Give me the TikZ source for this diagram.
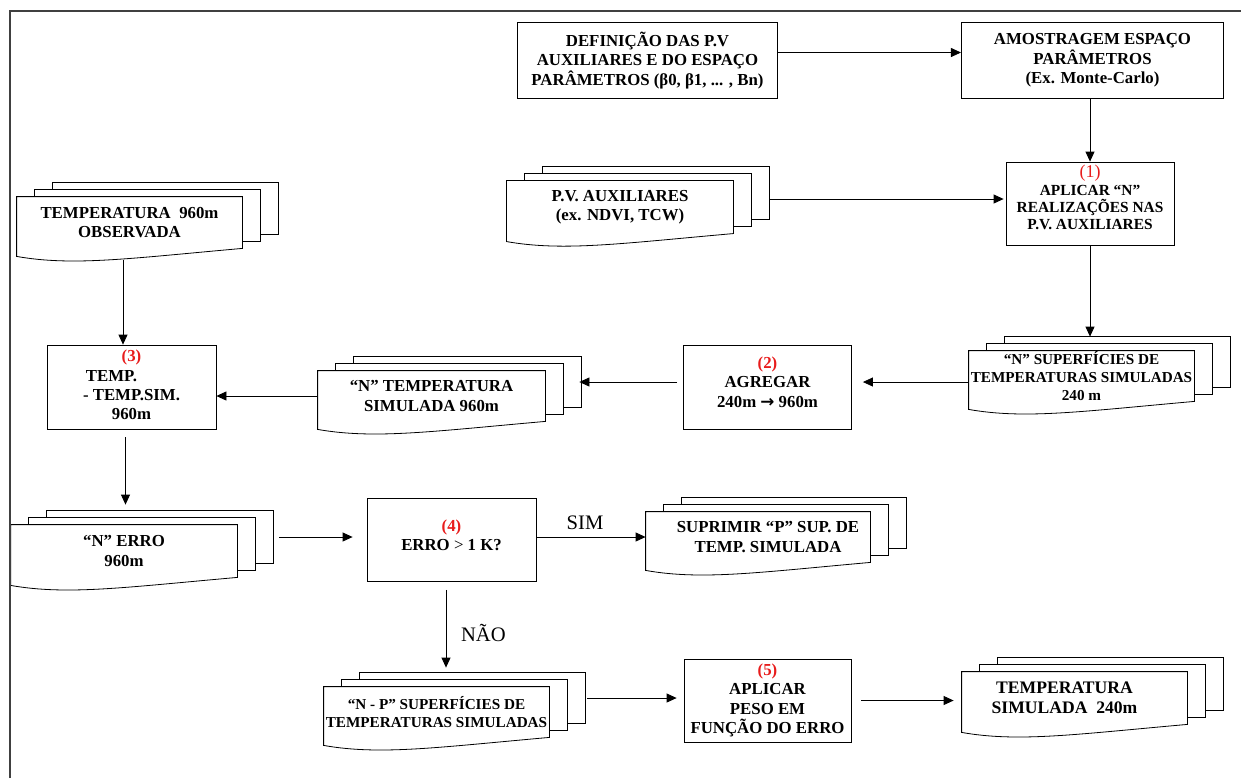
\documentclass[tikz,border=0pt]{standalone}
\usepackage{fontspec}
\setmainfont{Liberation Serif}
\newfontfamily\arrowfont{DejaVu Sans}
\usetikzlibrary{calc,arrows.meta}
\definecolor{numred}{RGB}{232,28,28}
\pgfdeclarelayer{bg}
\pgfsetlayers{bg,main}
\tikzset{
  procbox/.style={draw, align=center, inner sep=0pt, font=\bfseries\fontsize{8.4}{9.7}\selectfont},
  doctext/.style={align=center, inner sep=0pt, font=\bfseries\fontsize{8.4}{9.7}\selectfont},
  answer/.style={font=\fontsize{10.3}{12}\selectfont},
}
\newcommand{\stepnum}[1]{{\color{numred}#1}}
\newcommand{\lift}[1]{\rule[-#1]{0pt}{0pt}}
% stack of three pages behind a document node
\newcommand{\docstack}[1]{%
  \begin{pgfonlayer}{bg}
    \foreach \k in {2,1}{
      \draw[fill=white] ($(#1.north west)+(18*\k,-7*\k)$) rectangle ($(#1.south east)+(18*\k,-7*\k)$);
    }
    \draw[fill=white] (#1.north west) -- (#1.north east) -- (#1.south east)
      .. controls ($(#1.south east)!.5!(#1.south west)+(0,10)$) and ($(#1.south west)!.25!(#1.south east)+(0,18)$) .. ($(#1.south west)+(0,8)$) -- cycle;
  \end{pgfonlayer}
  \coordinate (#1-top) at ($(#1.north)+(36,-14)$);
  \coordinate (#1-right) at ($(#1.east)+(36,-14)$);
}
\begin{document}
\begin{tikzpicture}[x=0.5pt,y=-0.5pt,line width=0.55pt,>={Triangle[length=5pt,width=4.5pt]}]
	\useasboundingbox (0,0) rectangle (1241,778);
	% page frame
		\draw[black!75] (10,778) -- (10,11) -- (1241,11);
	% top row
		\node[procbox, minimum width=130pt, minimum height=38pt] (defin) at (647.5,60.5)
			{DEFINIÇÃO DAS P.V\\ AUXILIARES E DO ESPAÇO\\ PARÂMETROS (β0, β1, ... , Bn)};
		\node[procbox, minimum width=131pt, minimum height=38pt] (amostr) at (1092.5,60.5)
			{AMOSTRAGEM ESPAÇO\\ PARÂMETROS\\ (Ex. Monte-Carlo)};
	% second row
		\node[doctext, minimum width=113pt, minimum height=26pt] (pv) at (620,207)
			{P.V. AUXILIARES\\ (ex. NDVI, TCW)};
		\docstack{pv}
		\node[procbox, minimum width=84pt, minimum height=41.5pt, font=\bfseries\fontsize{7.7}{8.7}\selectfont] (aplicar1) at (1090,203.5)
			{{\mdseries\fontsize{9}{9}\selectfont\stepnum{(1)}}\\ APLICAR “N”\\ REALIZAÇÕES NAS\\ P.V. AUXILIARES\lift{6pt}};
		\node[doctext, minimum width=112.5pt, minimum height=25.5pt] (obs) at (129.5,222.5)
			{TEMPERATURA\hspace{.5em}960m\\ OBSERVADA};
		\docstack{obs}
	% third row
		\node[procbox, minimum width=84.5pt, minimum height=42pt] (dif3) at (131.5,387)
			{\stepnum{(3)}\\ \mbox{TEMP.\hspace{20pt}}\\ - TEMP.SIM.\\ 960m\lift{2pt}};
		\node[doctext, minimum width=113.5pt, minimum height=25pt] (sim960) at (431.5,396)
			{“N” TEMPERATURA\\ SIMULADA 960m};
		\docstack{sim960}
		\node[procbox, minimum width=84pt, minimum height=42pt] (agregar) at (767.5,387)
			{\stepnum{(2)}\\ AGREGAR\\ 240m {\arrowfont\bfseries →} 960m\lift{5pt}};
		\node[doctext, minimum width=112.5pt, minimum height=25pt, font=\bfseries\fontsize{7.6}{9}\selectfont] (surf) at (1081.5,376)
			{“N” SUPERFÍCIES DE\\ TEMPERATURAS SIMULADAS\\ 240 m};
		\docstack{surf}
	% fourth row
		\node[doctext, minimum width=113pt, minimum height=26pt] (erro) at (124,551)
			{“N” ERRO\\ 960m};
		\docstack{erro}
		\node[procbox, minimum width=84.5pt, minimum height=41.5pt] (erro4) at (451.5,540)
			{\stepnum{(4)}\\ ERRO {\mdseries >} 1 K?\lift{5pt}};
		\node[doctext, minimum width=112pt, minimum height=25pt] (supr) at (758,537)
			{\hspace*{10pt}SUPRIMIR “P” SUP. DE\\ \hspace*{10pt}TEMP. SIMULADA};
		\docstack{supr}
	% bottom row
		\node[doctext, minimum width=112.5pt, minimum height=25pt, font=\bfseries\fontsize{7.6}{9}\selectfont] (np) at (436.5,712)
			{“N - P” SUPERFÍCIES DE\\ TEMPERATURAS SIMULADAS};
		\docstack{np}
		\node[procbox, minimum width=83.5pt, minimum height=41.5pt] (peso5) at (767.5,700.5)
			{\stepnum{(5)}\\ APLICAR\\ PESO EM\\ FUNÇÃO DO ERRO};
		\node[doctext, minimum width=112.5pt, minimum height=26pt, font=\bfseries\fontsize{8.8}{10.2}\selectfont] (final) at (1074.5,698)
			{TEMPERATURA\hspace*{10pt}\\ SIMULADA\ \ 240m\hspace*{10pt}};
		\docstack{final}
	% flow
		\draw[->] ([yshift=4pt]defin.east) -- ([yshift=4pt]amostr.west);
		\draw[->] (aplicar1.north |- amostr.south) -- (aplicar1.north);
		\draw[->, shorten >=1pt] ([yshift=-3pt]pv-right) -- ([yshift=-3pt]pv-right -| aplicar1.west);
		\draw[->] (aplicar1.south) -- (aplicar1.south |- surf-top);
		\draw[->, shorten >=5.5pt] ([yshift=-3pt]surf.west) -- ([yshift=-3pt]surf.west -| agregar.east);
		\draw[->, shorten <=3pt, shorten >=-1pt] (agregar.west |- sim960-right) -- (sim960-right);
		\draw[->] (sim960.west) -- (sim960.west -| dif3.east);
		\draw[->] ([shift={(-3.25pt,-6pt)}]obs.south) -- ([xshift=-3.25pt]obs.south |- dif3.north);
		\draw[->, shorten <=4pt, shorten >=3pt] ([xshift=-3pt]dif3.south) -- ([xshift=-3pt]dif3.south |- erro-top);
		\draw[->, shorten <=3pt, shorten >=7pt] (erro-right) -- (erro-right -| erro4.west);
		\draw[->] (erro4.east |- supr.west) -- (supr.west)
			node[answer, midway, above=0pt, xshift=-3pt] (sim) {SIM};
		\draw[->, shorten <=4pt, shorten >=2.5pt] ([xshift=-2.75pt]erro4.south) -- ([xshift=-2.75pt]erro4.south |- np-top)
			node[answer, midway, right=4pt, yshift=-3pt] (nao) {NÃO};
		\draw[->, shorten <=1pt, shorten >=3.5pt] (np-right) -- (np-right -| peso5.west);
		\draw[->, shorten <=5pt, shorten >=4pt] (peso5.east) -- (peso5.east -| final.west);
\end{tikzpicture}
\end{document}
